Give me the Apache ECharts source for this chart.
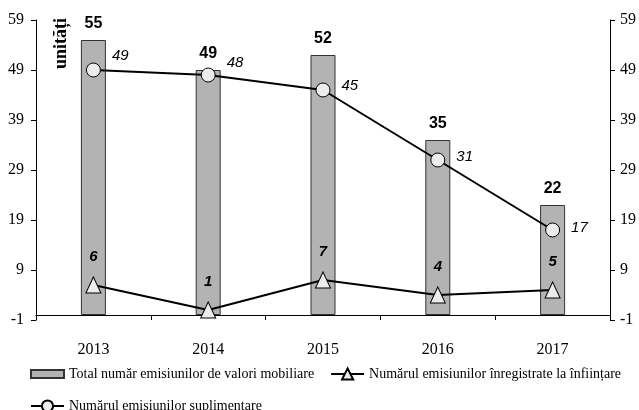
<!DOCTYPE html>
<html>
<head>
<meta charset="utf-8">
<script src="https://cdn.jsdelivr.net/npm/echarts@6/dist/echarts.min.js"></script>
<style>
  html, body { margin: 0; padding: 0; background: #fff; }
  #chart { width: 639px; height: 410px; }
</style>
</head>
<body>
<div id="chart"></div>
<script>
const years = ['2013', '2014', '2015', '2016', '2017']
const totalEmisiuni = [55, 49, 52, 35, 22]
const inregistrate = [6, 1, 7, 4, 5]
const suplimentare = [49, 48, 45, 31, 17]
const yTicks = [-1, 9, 19, 29, 39, 49, 59]

// label nudges for the circle series (pixels up)
const circleLabelDy = [-14, -12, -4, -3, -2]

const serif = '"Liberation Serif", "Times New Roman", serif'
const sans = '"Liberation Sans", Arial, sans-serif'

const yAxisBase = {
  type: 'value',
  min: -1,
  max: 59,
  splitLine: { show: false },
  axisLine: { show: true, lineStyle: { color: '#000', width: 1 } },
  axisTick: { show: true, length: 5, customValues: yTicks, lineStyle: { color: '#000' } },
  axisLabel: {
    customValues: yTicks,
    fontFamily: serif,
    fontSize: 16,
    color: '#000',
    margin: 12
  }
}

const myChart = echarts.init(document.getElementById('chart'))
myChart.setOption({
  animation: false,
  grid: { left: 36, right: 27, top: 20, bottom: 90, containLabel: false },
  xAxis: {
    type: 'category',
    data: years,
    axisLine: { lineStyle: { color: '#000', width: 1 } },
    axisTick: { show: true, length: 5, lineStyle: { color: '#000' } },
    axisLabel: { fontFamily: serif, fontSize: 16, color: '#000', margin: 22 }
  },
  yAxis: [
    Object.assign({ position: 'left' }, yAxisBase),
    Object.assign({ position: 'right' }, yAxisBase, {
      axisLabel: Object.assign({}, yAxisBase.axisLabel, { margin: 10 })
    })
  ],
  legend: {
    left: 30,
    top: 366,
    width: 605,
    padding: 0,
    itemWidth: 33,
    itemHeight: 14,
    itemGap: 16,
    textStyle: { fontFamily: serif, fontSize: 14, color: '#000' },
    data: [
      { name: 'Total număr emisiunilor de valori mobiliare', icon: 'path://M0,0M0,3L33,3L33,11L0,11ZM33,14' },
      { name: 'Numărul emisiunilor înregistrate la înființare' },
      { name: 'Numărul emisiunilor suplimentare' }
    ]
  },
  graphic: [{
    type: 'text',
    left: 52,
    top: 18,
    rotation: Math.PI / 2,
    style: {
      text: 'unități',
      font: 'bold 18px ' + serif,
      fill: '#000'
    }
  }],
  series: [
    {
      name: 'Total număr emisiunilor de valori mobiliare',
      type: 'bar',
      data: totalEmisiuni,
      barWidth: 25,
      itemStyle: { color: '#b3b3b3', borderColor: '#333', borderWidth: 1 },
      label: {
        show: true,
        position: 'top',
        distance: 8,
        fontFamily: sans,
        fontWeight: 'bold',
        fontSize: 16,
        color: '#000'
      }
    },
    {
      name: 'Numărul emisiunilor înregistrate la înființare',
      type: 'line',
      data: inregistrate,
      symbol: 'triangle',
      symbolSize: [15, 16],
      lineStyle: { color: '#000', width: 2 },
      itemStyle: { color: '#ececec', borderColor: '#000', borderWidth: 1 },
      label: {
        show: true,
        position: 'top',
        distance: 12,
        fontFamily: sans,
        fontWeight: 'bold',
        fontStyle: 'italic',
        fontSize: 15,
        color: '#000'
      }
    },
    {
      name: 'Numărul emisiunilor suplimentare',
      type: 'line',
      data: suplimentare.map((v, i) => ({ value: v, label: { offset: [0, circleLabelDy[i]] } })),
      symbol: 'circle',
      symbolSize: 14,
      lineStyle: { color: '#000', width: 2 },
      itemStyle: { color: '#ececec', borderColor: '#000', borderWidth: 1 },
      label: {
        show: true,
        position: 'right',
        distance: 11,
        fontFamily: sans,
        fontStyle: 'italic',
        fontSize: 15,
        color: '#000'
      }
    }
  ]
})
window.onresize = myChart.resize
</script>
</body>
</html>
